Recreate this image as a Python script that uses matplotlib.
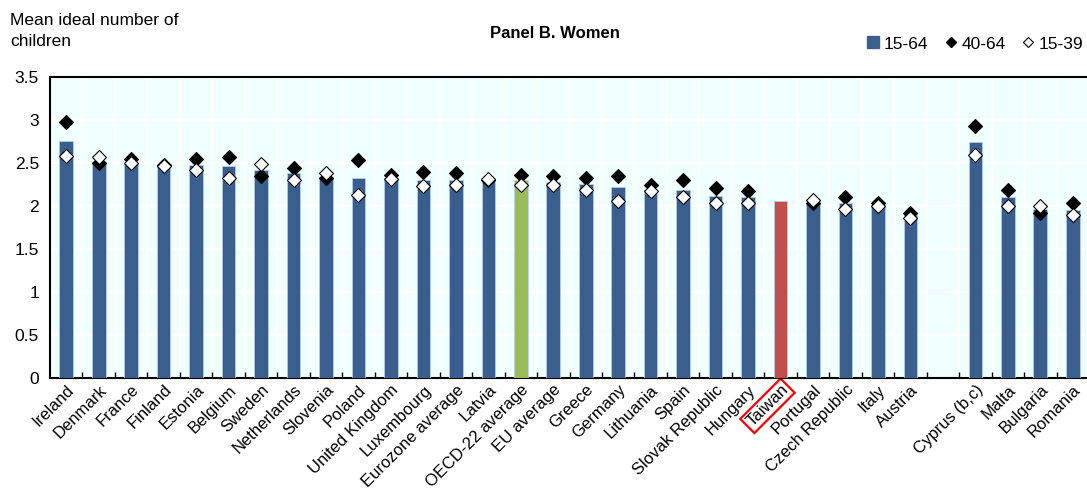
import matplotlib
matplotlib.use('Agg')
import matplotlib.pyplot as plt
import numpy as np
from matplotlib.lines import Line2D

plt.rcParams['font.family'] = ['Liberation Sans', 'DejaVu Sans']

categories = ['Ireland', 'Denmark', 'France', 'Finland', 'Estonia', 'Belgium', 'Sweden',
              'Netherlands', 'Slovenia', 'Poland', 'United Kingdom', 'Luxembourg',
              'Eurozone average', 'Latvia', 'OECD-22 average', 'EU average', 'Greece',
              'Germany', 'Lithuania', 'Spain', 'Slovak Republic', 'Hungary', 'Taiwan',
              'Portugal', 'Czech Republic', 'Italy', 'Austria', '',
              'Cyprus (b,c)', 'Malta', 'Bulgaria', 'Romania']

age_15_64 = [2.76, 2.51, 2.50, 2.47, 2.48, 2.46, 2.42, 2.38, 2.34, 2.33, 2.33, 2.30,
             2.30, 2.31, 2.30, 2.28, 2.26, 2.22, 2.19, 2.19, 2.12, 2.10, 2.06,
             2.03, 2.03, 2.01, 1.90, np.nan, 2.74, 2.10, 1.97, 1.95]

age_40_64 = [2.98, 2.50, 2.55, 2.48, 2.55, 2.57, 2.35, 2.445, 2.32, 2.53, 2.36, 2.40,
             2.38, 2.30, 2.36, 2.35, 2.33, 2.35, 2.24, 2.30, 2.21, 2.17, np.nan,
             2.04, 2.11, 2.03, 1.92, np.nan, 2.93, 2.19, 1.92, 2.03]

age_15_39 = [2.585, 2.57, 2.50, 2.47, 2.42, 2.33, 2.49, 2.30, 2.38, 2.13, 2.31, 2.23,
             2.24, 2.31, 2.24, 2.24, 2.19, 2.06, 2.17, 2.10, 2.04, 2.03, np.nan,
             2.07, 1.97, 2.00, 1.86, np.nan, 2.59, 2.00, 2.00, 1.90]

yticks = [0, 0.5, 1, 1.5, 2, 2.5, 3, 3.5]
ytick_labels = ['0', '0.5', '1', '1.5', '2', '2.5', '3', '3.5']

BLUE = '#3A5F8E'
GREEN = '#9BBB59'
RED = '#C0504D'
BG = '#F0FFFF'

bar_colors = []
for c in categories:
    if c == 'OECD-22 average':
        bar_colors.append(GREEN)
    elif c == 'Taiwan':
        bar_colors.append(RED)
    else:
        bar_colors.append(BLUE)

W, H = 1087, 490
fig = plt.figure(figsize=(W / 100, H / 100), dpi=100)
ax = fig.add_axes([50 / W, (H - 378) / H, (1089 - 50) / W, (378 - 77) / H])
ax.set_facecolor(BG)

x = np.arange(len(categories))
ax.bar(x, age_15_64, width=0.42, color=bar_colors, edgecolor='#B8D4EA', linewidth=0.5, zorder=3)
ax.plot(x, age_40_64, linestyle='none', marker='D', ms=6.8, mfc='black', mec='black', mew=0.8, zorder=4)
ax.plot(x, age_15_39, linestyle='none', marker='D', ms=6.8, mfc='white', mec='black', mew=0.8, zorder=5)

ax.set_xlim(-0.5, len(categories) - 0.5)
ax.set_ylim(0, 3.5)
ax.set_yticks(yticks)
ax.set_yticklabels(ytick_labels, fontsize=12.5)
ax.tick_params(axis='y', length=0, pad=8)

ax.set_xticks(x)
ax.set_xticklabels(categories, rotation=45, ha='right', rotation_mode='anchor', fontsize=12)
ax.tick_params(axis='x', which='major', length=0, pad=3)
ax.set_xticks(np.arange(-0.5, len(categories), 1)[1:], minor=True)
ax.tick_params(axis='x', which='minor', direction='in', length=4, width=1, color='black')

ax.grid(True, axis='y', which='major', color='white', linewidth=1.5, zorder=0)
ax.grid(True, axis='x', which='minor', color='white', linewidth=1.5, zorder=0)
ax.set_axisbelow(True)

for s in ['top', 'left', 'bottom']:
    ax.spines[s].set_color('black')
    ax.spines[s].set_linewidth(1.5)
ax.spines['right'].set_visible(False)

for lbl in ax.get_xticklabels():
    if lbl.get_text() == 'Taiwan':
        lbl.set_bbox(dict(boxstyle='square,pad=0.15', fc='none', ec='red', lw=1.6))

fig.text(10 / W, 1 - 13 / H, 'Mean ideal number of\nchildren', fontsize=12.5, va='top', ha='left',
         linespacing=1.5)
fig.text(555 / W, 1 - 33 / H, 'Panel B. Women', fontsize=12, fontweight='bold', ha='center', va='center')

handles = [
    Line2D([], [], linestyle='none', marker='s', ms=9, mfc=BLUE, mec=BLUE),
    Line2D([], [], linestyle='none', marker='D', ms=5, mfc='black', mec='black'),
    Line2D([], [], linestyle='none', marker='D', ms=5, mfc='white', mec='black', mew=0.8),
]
fig.legend(handles, ['15-64', '40-64', '15-39'], loc='center right', bbox_to_anchor=(1 - 4 / W, 1 - 44 / H),
           ncol=3, frameon=False, fontsize=12.5, handlelength=0.8, handletextpad=0.2, columnspacing=0.9,
           borderpad=0, borderaxespad=0)

fig.savefig('out.png', dpi=100, facecolor='white')
